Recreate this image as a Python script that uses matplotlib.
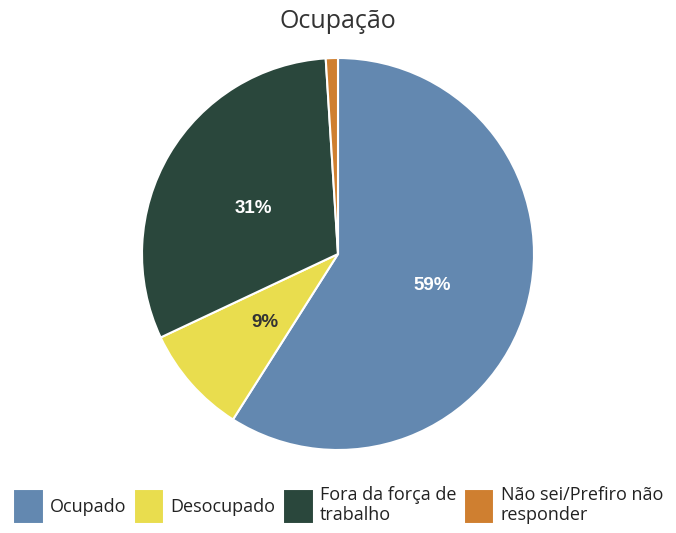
import matplotlib
matplotlib.use("Agg")
import matplotlib.pyplot as plt

categories = ["Ocupado", "Desocupado", "Fora da força de\ntrabalho", "Não sei/Prefiro não\nresponder"]
shares = [59, 9, 31, 1]
colors = ["#6388B0", "#E9DD4E", "#2A473C", "#CF7F30"]
label_colors = ["white", "#333333", "white", "white"]

plt.rcParams["font.family"] = ["Open Sans", "DejaVu Sans"]

fig = plt.figure(figsize=(6.76, 5.33), dpi=100)
# pie centre ~ (338, 254) px, radius ~196 px
ax = fig.add_axes([(338 - 196) / 676, 1 - (254 + 196) / 533, 392 / 676, 392 / 533])

wedges, texts, autotexts = ax.pie(
    shares, colors=colors, startangle=90, counterclock=False,
    autopct=lambda p: f"{p:.0f}%" if p >= 2 else "", pctdistance=0.5,
    wedgeprops=dict(edgecolor="white", linewidth=1.5),
)
for t, c in zip(autotexts, label_colors):
    t.set_color(c)
    t.set_fontsize(13.5)
    t.set_fontweight("bold")
    t.set_family(["Liberation Sans", "DejaVu Sans"])
    x, y = t.get_position()
    t.set_position((x, y - 0.02))
ax.set_xlim(-1.0, 1.0)
ax.set_ylim(-1.0, 1.0)
ax.set_aspect("equal")

fig.text(0.5, 1 - 21 / 533, "Ocupação", ha="center", va="center", fontsize=18, color="#333333")

fig.legend(wedges, categories, loc="center", bbox_to_anchor=(0.5, 1 - 505 / 533),
           ncol=4, frameon=False, fontsize=13, handlelength=1.7, handleheight=2.6,
           handletextpad=0.35, columnspacing=0.4, labelcolor="#222222",
           borderaxespad=0, borderpad=0, labelspacing=0)

fig.savefig("out.png", dpi=100)
